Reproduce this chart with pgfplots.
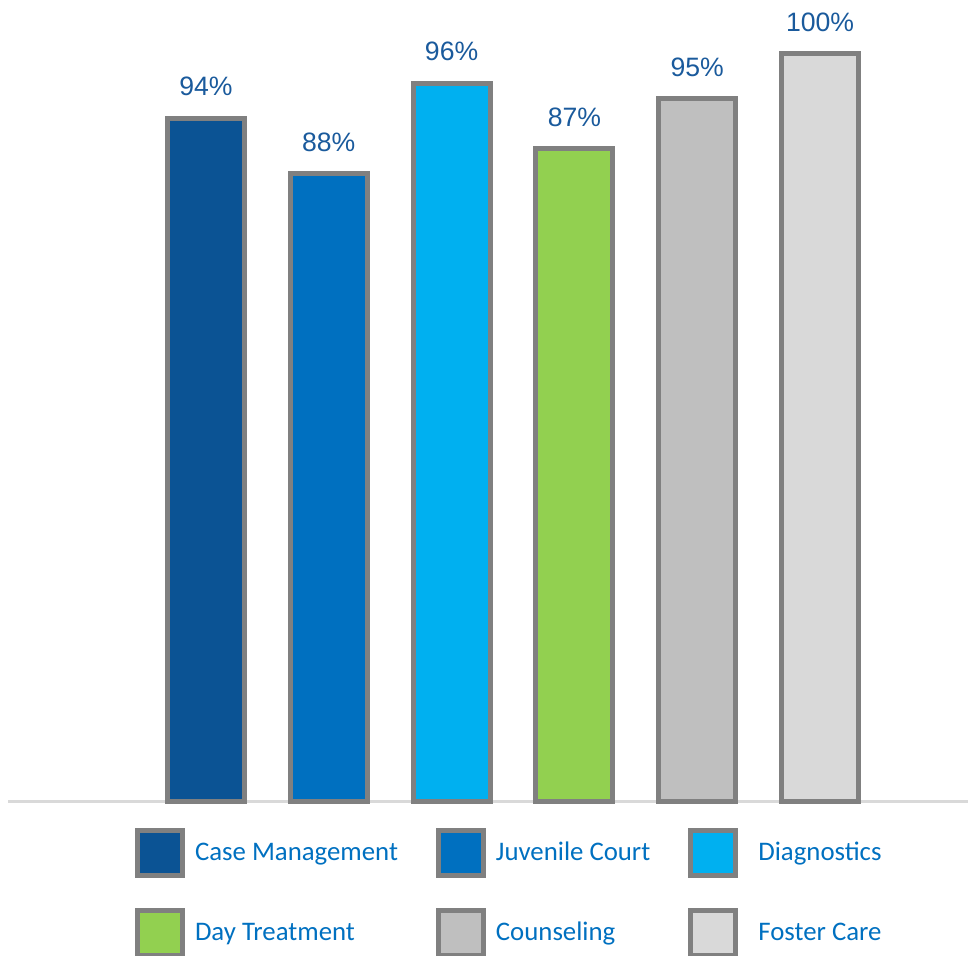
\documentclass[border=0pt]{standalone}
\usepackage{pgfplots}
\pgfplotsset{compat=1.18}
\usepackage{fontspec}
\setmainfont{Liberation Sans}
\newfontfamily\legfont{Carlito}
\definecolor{cCase}{HTML}{0B5394}
\definecolor{cJuv}{HTML}{0070C0}
\definecolor{cDiag}{HTML}{00B0F0}
\definecolor{cDay}{HTML}{92D050}
\definecolor{cCoun}{HTML}{BFBFBF}
\definecolor{cFost}{HTML}{D9D9D9}
\definecolor{cBorder}{HTML}{808080}
\definecolor{cLabel}{HTML}{1A5A9C}
\definecolor{cLeg}{HTML}{0070C0}
\begin{document}
\begin{tikzpicture}
\begin{axis}[
  scale only axis,
  width=480pt, height=401pt,
  xmin=-1.612, xmax=6.205,
  ymin=0, ymax=107.2,
  axis x line*=bottom, axis y line=none,
  x axis line style={draw=cFost, line width=1.5pt},
  xtick=\empty, ytick=\empty,
  clip=false,
  ybar, bar shift=0pt, bar width=38.5pt,
  every axis plot/.append style={draw=cBorder, line width=2.5pt},
  point meta=explicit symbolic,
  nodes near coords,
  nodes near coords style={font=\fontsize{13.3}{16}\selectfont, text=cLabel, anchor=south, yshift=6.5pt},
  legend columns=3,
  legend image code/.code={\draw[#1, line width=2.5pt] (0pt,-11.25pt) rectangle (22.5pt,11.25pt);},
  legend style={draw=none, fill=none, inner sep=0pt, outer sep=0pt,
    at={(rel axis cs:0.1323,-0.0324)}, anchor=north west,
    font=\legfont\fontsize{13.4}{16}\selectfont, text=cLeg,
    row sep=15pt,
    /tikz/every odd column/.append style={column sep=3pt},
    /tikz/every even column/.append style={column sep=17pt}},
  legend cell align=left,
]
\addplot[fill=cCase] coordinates {(0,91.4) [94\%]};
\addlegendentry{Case Management}
\addplot[fill=cJuv] coordinates {(1,84.0) [88\%]};
\addlegendentry{Juvenile Court}
\addplot[fill=cDiag] coordinates {(2,96.1) [96\%]};
\addlegendentry{\hspace{5pt}Diagnostics}
\addplot[fill=cDay] coordinates {(3,87.3) [87\%]};
\addlegendentry{Day Treatment}
\addplot[fill=cCoun] coordinates {(4,94.0) [95\%]};
\addlegendentry{Counseling}
\addplot[fill=cFost] coordinates {(5,100) [100\%]};
\addlegendentry{\hspace{5pt}Foster Care}
\end{axis}
\pgfresetboundingbox
\path (current axis.north east) ++(-484pt,0pt) rectangle ++(484pt,-478pt);
\end{tikzpicture}
\end{document}
